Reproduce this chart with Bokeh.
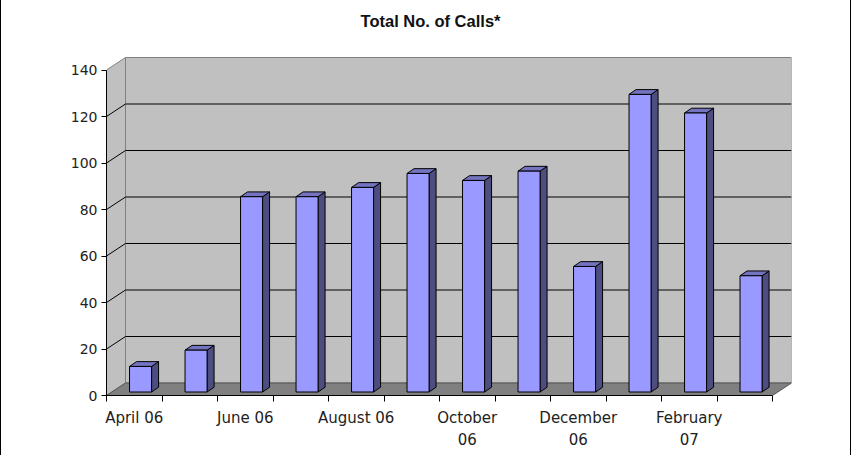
from bokeh.plotting import figure
from bokeh.models import Range1d, FixedTicker, LinearAxis, Label
from bokeh.embed import file_html
from bokeh.resources import INLINE

# ---- data ----
months = ["April 06", "May 06", "June 06", "July 06", "August 06", "September 06",
          "October 06", "November 06", "December 06", "January 07", "February 07", "March 07"]
calls = [11, 18, 84, 84, 88, 94, 91, 95, 54, 128, 120, 50]
y_ticks = [0, 20, 40, 60, 80, 100, 120, 140]
x_tick_labels = {0: "April 06", 2: "June 06", 4: "August 06",
                 6: "October\n06", 8: "December\n06", 10: "February\n07"}
title_text = "Total No. of Calls*"

# ---- layout (pixels) ----
W, H = 851, 458
BL, BR, BB = 105, 61, 61
TOP_SPACE = 59          # pixels between canvas top and the back wall's top edge
TITLE_Y = 22            # title centre, pixels below canvas top
frame_w = W - BL - BR
frame_h = H - BB        # frame reaches the canvas top; title lives inside it
n = len(months)
y_max = y_ticks[-1]
DEPTH_X_PX, DEPTH_Y_PX = 19.0, 12.5
px_x = (frame_w - DEPTH_X_PX) / n
px_y = (frame_h - TOP_SPACE - DEPTH_Y_PX) / y_max
DX = DEPTH_X_PX / px_x
DY = DEPTH_Y_PX / px_y
y_top = frame_h / px_y

p = figure(width=W, height=H, x_range=Range1d(0, n + DX), y_range=Range1d(0, y_top),
           x_axis_type=None, y_axis_type=None, output_backend="svg", toolbar_location=None,
           min_border_left=BL, min_border_right=BR, min_border_top=0, min_border_bottom=BB)
p.outline_line_color = None
p.background_fill_color = "white"
p.border_fill_color = "white"
p.styles = {"border-top": "1px solid black", "border-left": "1px solid black",
            "border-right": "1px solid black", "margin-top": "-3px"}

WALL = "#c0c0c0"
FLOOR = "#808080"
EDGE = "#808080"

# back wall
p.patch([DX, n + DX, n + DX, DX], [DY, DY, y_max + DY, y_max + DY],
        fill_color=WALL, line_color=EDGE, line_width=1)
# side wall
p.patch([0, DX, DX, 0], [0, DY, y_max + DY, y_max],
        fill_color=WALL, line_color=EDGE, line_width=1)
# floor
p.patch([0, n, n + DX, DX], [0, 0, DY, DY],
        fill_color=FLOOR, line_color="#555555", line_width=1)

# gridlines on back & side walls
gv = [v for v in y_ticks if 0 < v < y_max]
p.segment(x0=[DX] * len(gv), y0=[v + DY for v in gv], x1=[n + DX] * len(gv), y1=[v + DY for v in gv],
          line_color="black", line_width=1)
p.segment(x0=[0] * len(gv), y0=gv, x1=[DX] * len(gv), y1=[v + DY for v in gv],
          line_color="black", line_width=1)

# 3D bars
BAR_L, BAR_R = 0.415, 0.812
B0 = 1.5
SDX = 7.0 / px_x
SDY = 4.8 / px_y
fx, fy, sx, sy, tx, ty = [], [], [], [], [], []
for i, v in enumerate(calls):
    xl, xr = i + BAR_L, i + BAR_R
    top = v + B0
    fx.append([xl, xr, xr, xl]); fy.append([B0, B0, top, top])
    sx.append([xr, xr + SDX, xr + SDX, xr]); sy.append([B0, B0 + SDY, top + SDY, top])
    tx.append([xl, xr, xr + SDX, xl + SDX]); ty.append([top, top, top + SDY, top + SDY])
p.patches(sx, sy, fill_color="#4d4d80", line_color="black", line_width=1)
p.patches(tx, ty, fill_color="#7373c0", line_color="black", line_width=1)
p.patches(fx, fy, fill_color="#9999ff", line_color="black", line_width=1)

# axes
yaxis = LinearAxis(ticker=FixedTicker(ticks=y_ticks), bounds=(0, y_max),
                   major_tick_out=5, major_tick_in=0, minor_tick_line_color=None,
                   major_label_standoff=4, major_label_text_font="DejaVu Sans",
                   major_label_text_font_size="14px", major_label_text_color="#222222",
                   axis_line_color="black", major_tick_line_color="black")
p.add_layout(yaxis, "left")

xaxis = LinearAxis(ticker=FixedTicker(ticks=[k + 0.5 for k in x_tick_labels],
                                      minor_ticks=list(range(n + 1))),
                   bounds=(0, n), major_tick_line_color=None, major_tick_out=0, major_tick_in=0,
                   minor_tick_out=6, minor_tick_in=0, minor_tick_line_color="black",
                   major_label_overrides={k + 0.5: t for k, t in x_tick_labels.items()},
                   major_label_standoff=7, major_label_text_font="DejaVu Sans",
                   major_label_text_font_size="15px", major_label_text_color="#222222",
                   major_label_text_line_height=1.25, axis_line_color="black")
p.add_layout(xaxis, "below")

# chart title (inside the frame's upper margin)
p.add_layout(Label(x=(429 - BL) / px_x, y=(frame_h - TITLE_Y) / px_y, text=title_text,
                   text_align="center", text_baseline="middle", text_font="Liberation Sans",
                   text_font_style="bold", text_font_size="16.5px", text_color="#111111"))

open("out.html", "w").write(file_html(p, INLINE))
